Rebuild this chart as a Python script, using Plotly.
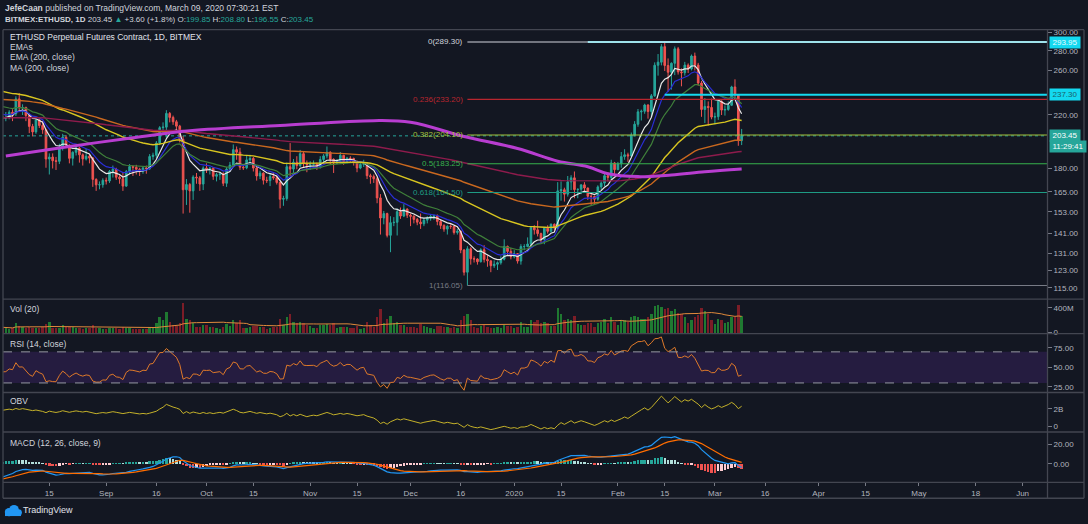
import numpy as np
import pandas as pd
import plotly.graph_objects as go
from plotly.subplots import make_subplots

W, H = 1088, 524
BG = "#131722"
TXT = "#b2b5be"
FONT = "Liberation Sans"

# ---------------- data (daily, BITMEX:ETHUSD) ----------------
dates = pd.date_range("2019-08-01", "2020-03-09", freq="D")

opens = [
    # Aug 2019
    218.5, 217.4, 217.9, 222.3, 221.0, 233.7, 226.0, 226.3, 219.6, 210.8, 206.5, 216.0, 211.5, 208.2, 186.5, 187.9,
    185.3, 184.9, 194.6, 202.4, 196.5, 187.0, 191.3, 194.3, 189.5, 186.6, 188.5, 187.2, 172.8, 169.3, 169.4,
    # Sep
    172.2, 171.8, 178.1, 179.5, 174.2, 173.2, 168.5, 177.9, 181.3, 180.8, 179.5, 178.3, 180.4, 179.9, 188.3,
    189.2, 198.0, 209.8, 210.2, 221.3, 218.0, 214.5, 211.0, 200.8, 166.2, 169.5, 165.5, 174.3, 173.8, 169.8,
    # Oct
    180.3, 179.6, 180.2, 174.8, 175.9, 176.4, 170.3, 179.6, 182.3, 193.2, 191.4, 180.9, 180.5, 185.9, 186.9, 180.3,
    175.0, 176.9, 172.3, 172.0, 174.6, 173.8, 170.8, 160.4, 160.8, 181.2, 179.6, 184.3, 182.0, 190.3, 183.2,
    # Nov
    182.6, 182.9, 183.0, 181.2, 186.2, 188.7, 191.3, 186.3, 183.9, 185.2, 189.1, 185.0, 187.1, 186.9, 184.2,
    180.3, 182.8, 183.5, 175.2, 174.6, 173.2, 161.2, 149.5, 152.0, 140.1, 146.9, 147.1, 153.1, 150.6, 154.6,
    # Dec
    151.1, 150.5, 148.7, 147.2, 146.3, 148.3, 149.5, 150.4, 150.7, 147.6, 145.4, 143.4, 144.9, 144.8, 141.6, 142.3,
    132.6, 122.0, 133.2, 128.3, 128.2, 126.9, 132.7, 128.0, 127.3, 125.0, 125.7, 126.4, 128.1, 134.4, 131.9,
    # Jan 2020
    129.3, 130.8, 127.2, 134.3, 134.3, 135.6, 144.2, 143.0, 141.0, 138.0, 143.9, 142.2, 146.0, 144.0, 165.5, 166.2,
    163.5, 171.2, 173.8, 166.3, 166.5, 169.3, 167.3, 162.2, 162.1, 160.4, 168.0, 170.4, 175.2, 174.1, 183.8,
    # Feb
    179.2, 183.2, 188.2, 189.5, 188.7, 204.1, 212.5, 222.6, 223.1, 228.4, 222.9, 236.4, 265.1, 268.2, 284.3,
    264.9, 258.3, 267.1, 282.0, 258.6, 257.8, 265.3, 261.4, 274.5, 265.3, 248.0, 224.6, 227.2, 226.3,
    # Mar
    218.3, 218.6, 231.6, 224.1, 224.6, 228.2, 244.4, 237.3, 199.85,
]
highs = [
    219.5, 222.5, 224.0, 224.8, 236.0, 238.8, 229.0, 227.0, 221.5, 212.8, 217.5, 216.8, 215.0, 209.0, 190.5, 190.5,
    188.0, 197.5, 205.0, 204.0, 197.0, 192.0, 195.5, 195.0, 190.5, 194.0, 190.0, 188.0, 173.5, 171.5, 173.5,
    174.0, 179.0, 182.0, 180.5, 175.5, 177.5, 179.0, 183.0, 182.0, 182.5, 180.5, 181.5, 182.0, 190.0, 191.0,
    199.5, 211.0, 214.0, 224.0, 222.5, 219.5, 216.0, 212.0, 203.5, 173.0, 170.5, 175.5, 177.0, 175.0, 181.5,
    183.5, 181.0, 181.0, 177.0, 177.5, 177.5, 181.0, 184.5, 197.0, 195.5, 194.5, 182.5, 189.0, 189.5, 188.0, 181.0,
    178.5, 177.5, 174.5, 176.5, 177.5, 175.5, 171.5, 162.5, 184.0, 198.0, 186.5, 188.5, 193.0, 191.5, 185.5,
    185.0, 185.5, 184.0, 188.5, 190.0, 195.5, 192.0, 187.0, 186.5, 191.5, 189.5, 188.0, 188.5, 187.5, 185.5,
    184.5, 186.0, 184.0, 176.5, 176.0, 174.5, 163.5, 153.5, 152.5, 150.5, 150.0, 155.0, 155.5, 157.5, 155.0,
    152.0, 151.0, 149.5, 152.0, 149.5, 150.5, 151.5, 151.5, 151.5, 148.5, 146.0, 145.5, 146.0, 145.0, 143.5, 142.5,
    133.0, 134.5, 134.0, 129.5, 128.5, 133.5, 135.0, 130.0, 127.5, 127.5, 127.0, 129.5, 138.0, 134.8, 133.5,
    132.5, 131.0, 135.5, 135.5, 139.0, 145.0, 145.5, 148.0, 141.5, 144.0, 145.5, 146.5, 146.5, 171.0, 171.5, 167.5,
    175.0, 175.5, 178.0, 167.0, 169.5, 171.0, 167.5, 163.5, 162.5, 169.0, 171.5, 177.0, 177.5, 186.0, 184.5,
    184.5, 191.5, 193.5, 191.0, 206.0, 215.0, 225.0, 224.5, 229.5, 229.0, 238.0, 268.0, 276.5, 287.0, 289.3,
    272.0, 268.0, 284.5, 284.0, 262.0, 268.5, 267.0, 276.0, 278.0, 267.5, 250.0, 234.5, 231.5, 234.0,
    222.0, 233.0, 232.5, 228.0, 231.5, 245.5, 251.5, 237.8, 208.8,
]
lows = [
    210.2, 214.9, 216.5, 215.0, 219.2, 222.5, 220.0, 215.0, 205.5, 203.0, 205.0, 209.5, 205.0, 180.5, 176.0, 180.0,
    179.0, 183.0, 192.5, 195.0, 183.5, 182.0, 189.0, 184.0, 182.0, 185.5, 183.5, 168.0, 165.5, 166.5, 167.5,
    169.5, 170.5, 174.0, 172.5, 170.0, 165.5, 168.0, 176.0, 175.0, 176.0, 175.0, 176.5, 176.5, 179.0, 186.0,
    187.0, 196.5, 205.0, 202.0, 214.0, 212.0, 206.0, 198.5, 152.0, 157.0, 152.5, 160.0, 170.0, 165.5, 166.0,
    177.0, 176.0, 172.5, 171.5, 172.5, 168.5, 168.0, 178.0, 181.5, 186.0, 179.0, 179.0, 179.5, 183.5, 178.0, 172.0,
    173.0, 169.5, 170.5, 168.5, 172.5, 169.5, 155.0, 156.5, 159.5, 175.0, 177.0, 179.5, 181.0, 181.0, 177.5,
    179.0, 182.0, 179.0, 180.0, 184.0, 187.0, 183.0, 177.0, 183.0, 183.5, 182.5, 183.5, 184.5, 182.0, 177.5,
    179.5, 181.0, 173.0, 170.0, 170.5, 158.0, 140.5, 146.0, 139.0, 131.5, 145.0, 140.0, 149.0, 150.0, 149.5,
    145.0, 146.5, 145.5, 143.5, 145.0, 146.5, 148.0, 148.5, 145.5, 143.5, 142.0, 140.5, 143.5, 140.5, 140.5, 131.0,
    120.5, 116.05, 125.5, 126.5, 125.5, 126.5, 126.5, 124.5, 122.0, 124.0, 123.0, 125.5, 127.5, 130.0, 128.0,
    128.5, 126.0, 125.5, 132.5, 134.0, 135.0, 140.5, 139.5, 136.0, 135.5, 141.0, 141.5, 142.5, 143.5, 159.5, 159.0,
    162.0, 166.0, 161.0, 161.0, 163.5, 165.5, 160.0, 157.0, 157.5, 159.5, 166.0, 168.5, 171.5, 172.0, 176.0,
    179.0, 180.5, 186.0, 184.5, 188.0, 203.0, 210.5, 215.5, 221.0, 217.0, 218.5, 235.5, 255.0, 265.0, 259.5,
    240.0, 242.0, 255.5, 256.0, 245.0, 255.0, 257.5, 260.0, 260.0, 245.5, 218.5, 213.5, 211.5, 216.5,
    212.5, 216.0, 220.0, 219.5, 223.5, 227.5, 235.0, 196.0, 196.55,
]
closes = [
    217.4, 217.9, 222.3, 221.0, 233.7, 226.0, 226.3, 219.6, 210.8, 206.5, 216.0, 211.5, 208.2, 186.5, 187.9, 185.3,
    184.9, 194.6, 202.4, 196.5, 187.0, 191.3, 194.3, 189.5, 186.6, 188.5, 187.2, 172.8, 169.3, 169.4, 172.2,
    171.8, 178.1, 179.5, 174.2, 173.2, 168.5, 177.9, 181.3, 180.8, 179.5, 178.3, 180.4, 179.9, 188.3, 189.2,
    198.0, 209.8, 210.2, 221.3, 218.0, 214.5, 211.0, 200.8, 166.2, 169.5, 165.5, 174.3, 173.8, 169.8, 180.3,
    179.6, 180.2, 174.8, 175.9, 176.4, 170.3, 179.6, 182.3, 193.2, 191.4, 180.9, 180.5, 185.9, 186.9, 180.3, 175.0,
    176.9, 172.3, 172.0, 174.6, 173.8, 170.8, 160.4, 160.8, 181.2, 179.6, 184.3, 182.0, 190.3, 183.2, 182.6,
    182.9, 183.0, 181.2, 186.2, 188.7, 191.3, 186.3, 183.9, 185.2, 189.1, 185.0, 187.1, 186.9, 184.2, 180.3,
    182.8, 183.5, 175.2, 174.6, 173.2, 161.2, 149.5, 152.0, 140.1, 146.9, 147.1, 153.1, 150.6, 154.6, 151.1,
    150.5, 148.7, 147.2, 146.3, 148.3, 149.5, 150.4, 150.7, 147.6, 145.4, 143.4, 144.9, 144.8, 141.6, 142.3, 132.6,
    122.0, 133.2, 128.3, 128.2, 126.9, 132.7, 128.0, 127.3, 125.0, 125.7, 126.4, 128.1, 134.4, 131.9, 129.3,
    130.8, 127.2, 134.3, 134.3, 135.6, 144.2, 143.0, 141.0, 138.0, 143.9, 142.2, 146.0, 144.0, 165.5, 166.2, 163.5,
    171.2, 173.8, 166.3, 166.5, 169.3, 167.3, 162.2, 162.1, 160.4, 168.0, 170.4, 175.2, 174.1, 183.8, 179.2,
    183.2, 188.2, 189.5, 188.7, 204.1, 212.5, 222.6, 223.1, 228.4, 222.9, 236.4, 265.1, 268.2, 284.3, 264.9,
    258.3, 267.1, 282.0, 258.6, 257.8, 265.3, 261.4, 274.5, 265.3, 248.0, 224.6, 227.2, 226.3, 218.3,
    218.6, 231.6, 224.1, 224.6, 228.2, 244.4, 237.3, 199.85, 203.45,
]
volumes_m = [
    # Aug
    80, 70, 60, 70, 150, 110, 90, 70, 90, 70, 70, 70, 90, 140, 170, 80, 70, 80, 120, 90, 90, 90, 70, 70, 60, 80,
    70, 120, 80, 70, 60,
    # Sep
    60, 80, 80, 70, 60, 90, 70, 70, 60, 60, 60, 60, 60, 90, 70, 150, 260, 200, 330, 180, 130, 110, 150, 480, 220,
    200, 150, 90, 90, 130,
    # Oct
    120, 90, 100, 80, 60, 90, 140, 110, 200, 150, 200, 70, 80, 90, 110, 110, 90, 90, 60, 80, 90, 90, 230, 130, 260,
    300, 170, 160, 180, 150, 130,
    # Nov
    110, 70, 70, 120, 120, 140, 120, 150, 70, 90, 100, 90, 70, 80, 110, 60, 70, 170, 120, 100, 250, 380, 150, 230,
    280, 150, 180, 120, 130, 100,
    # Dec
    100, 90, 80, 140, 110, 90, 70, 60, 110, 110, 100, 100, 80, 90, 70, 200, 280, 310, 200, 100, 70, 110, 130, 100,
    80, 80, 100, 80, 120, 110, 110,
    # Jan
    70, 100, 170, 90, 90, 200, 170, 200, 150, 180, 150, 110, 110, 400, 300, 200, 220, 200, 270, 140, 130, 120, 160,
    160, 100, 150, 170, 220, 160, 250, 180,
    # Feb
    120, 200, 200, 170, 260, 270, 250, 220, 220, 260, 300, 440, 450, 420, 380, 400, 350, 380, 320, 300, 260, 160,
    200, 260, 290, 400, 350, 300, 200,
    # Mar
    140, 230, 200, 150, 180, 250, 260, 460, 280,
]
# MA(200) at sample dates
ma200_dates = ["2019-08-02", "2019-08-20", "2019-09-09", "2019-09-26", "2019-10-23", "2019-11-20", "2019-12-01",
               "2019-12-17", "2020-01-02", "2020-01-14", "2020-01-23", "2020-01-29", "2020-02-07", "2020-02-17",
               "2020-02-27", "2020-03-09"]
ma200_vals = [188.6, 195.1, 202.0, 207.3, 211.5, 215.4, 214.1, 203.0, 194.0, 185.0, 181.2, 176.5, 174.6, 175.7,
              177.8, 179.6]

# indicator seeds (values at the left edge of the chart)
ema_lengths = [8, 13, 21, 55, 100, 200]
ema_seeds = [218.0, 221.0, 228.0, 241.3, 233.5, 217.7]
ema_colors = ["#e8e8e8", "#2a2ed6", "#3f7f3a", "#d8c520", "#c9681f", "#8e1b4c"]
macd_seeds = (215.5, 230.0, -15.7)  # EMA12, EMA26, signal
rsi_seeds = (2.6, 3.2)  # avg gain, avg loss
obv_seed = 1.93e9

fib_ratios = ["0", "0.236", "0.382", "0.5", "0.618", "1"]
fib_prices = [289.30, 233.20, 204.10, 183.25, 164.50, 116.05]
fib_colors = ["#d1d4dc", "#b8262f", "#a3c13a", "#37b24d", "#1e9b84", "#787b86"]

assert len(dates) == len(opens) == len(highs) == len(lows) == len(closes) == len(volumes_m)

closes_a = np.array(closes)
vols = np.array(volumes_m) * 1e6


def ema(vals, length, seed):
    a = 2.0 / (length + 1)
    out, prev = [], seed
    for v in vals:
        prev = prev + a * (v - prev)
        out.append(prev)
    return np.array(out)


# MACD
e12 = ema(closes_a, 12, macd_seeds[0])
e26 = ema(closes_a, 26, macd_seeds[1])
macd = e12 - e26
sig = ema(macd, 9, macd_seeds[2])
hist = macd - sig
hist_prev = np.concatenate([[macd_seeds[0] - macd_seeds[1] - macd_seeds[2]], hist[:-1]])
hcol = []
for h, p in zip(hist, hist_prev):
    if h >= 0:
        hcol.append("#26a69a" if h > p else "#b2dfdb")
    else:
        hcol.append("#ffcdd2" if h > p else "#ef5350")

# RSI (Wilder)
ch = closes_a - np.concatenate([[opens[0]], closes_a[:-1]])
ag, al = rsi_seeds
rsi = []
for c in ch:
    ag = (ag * 13 + max(c, 0)) / 14
    al = (al * 13 + max(-c, 0)) / 14
    rsi.append(100 - 100 / (1 + ag / al))

# OBV
obv = []
cur = obv_seed
for c, v in zip(ch, vols):
    cur += v if c > 0 else (-v if c < 0 else 0)
    obv.append(cur)

vol_ma = pd.Series(vols).rolling(20, min_periods=1).mean()
vol_cols = ["rgba(34,139,52,0.85)" if c >= o else "rgba(136,30,40,0.9)" for o, c in zip(opens, closes)]

# ---------------- figure ----------------
def px(x):
    return x / W


def py(y):
    return 1 - y / H


X0 = pd.Timestamp("2019-08-01 03:36")
X1 = pd.Timestamp("2020-06-08 07:00")

fig = make_subplots(rows=5, cols=1, shared_xaxes=True, vertical_spacing=0)

fig.add_trace(go.Candlestick(
    x=dates, open=opens, high=highs, low=lows, close=closes,
    increasing=dict(line=dict(color="#26a69a", width=1), fillcolor="#26a69a"),
    decreasing=dict(line=dict(color="#ef5350", width=1), fillcolor="#ef5350"),
    whiskerwidth=0, showlegend=False, hoverinfo="skip"), row=1, col=1)

# last-price line
fig.add_trace(go.Scatter(x=[X0, X1], y=[closes[-1], closes[-1]], mode="lines",
                         line=dict(color="#26a69a", width=1, dash="dot"), showlegend=False, hoverinfo="skip"),
              row=1, col=1)

# EMAs
for L, s, col in zip(ema_lengths, ema_seeds, ema_colors):
    fig.add_trace(go.Scatter(x=dates, y=ema(closes_a, L, s), mode="lines",
                             line=dict(color=col, width=1.2 if L < 55 else 1.4),
                             showlegend=False, hoverinfo="skip"), row=1, col=1)
fig.add_trace(go.Scatter(x=pd.to_datetime(ma200_dates), y=ma200_vals, mode="lines",
                         line=dict(color="#b83dd0", width=3, shape="spline"), showlegend=False, hoverinfo="skip"),
              row=1, col=1)

# Fibonacci levels
fib_start = pd.Timestamp("2019-12-18")
for r, p, c in zip(fib_ratios, fib_prices, fib_colors):
    fig.add_trace(go.Scatter(x=[fib_start, X1], y=[p, p], mode="lines", line=dict(color=c, width=1.2),
                             showlegend=False, hoverinfo="skip"), row=1, col=1)
    fig.add_annotation(x=pd.Timestamp("2019-12-17 10:00"), y=np.log10(p), xref="x", yref="y",
                       text=f"{r}({p:.2f})", showarrow=False, xanchor="right", yanchor="middle",
                       font=dict(family=FONT, size=8, color=c))

# user horizontal rays
fig.add_trace(go.Scatter(x=[pd.Timestamp("2020-01-23"), X1], y=[289.4, 289.4], mode="lines",
                         line=dict(color="#9fe3ec", width=2), showlegend=False, hoverinfo="skip"), row=1, col=1)
fig.add_trace(go.Scatter(x=[pd.Timestamp("2020-02-15"), X1], y=[237.3, 237.3], mode="lines",
                         line=dict(color="#14d9f0", width=2), showlegend=False, hoverinfo="skip"), row=1, col=1)

# volume
fig.add_trace(go.Bar(x=dates, y=vols, marker=dict(color=vol_cols, line=dict(width=0)),
                     width=0.72 * 86400000, showlegend=False, hoverinfo="skip"), row=2, col=1)
fig.add_trace(go.Scatter(x=dates, y=vol_ma, mode="lines", line=dict(color="#e08a3c", width=1),
                         showlegend=False, hoverinfo="skip"), row=2, col=1)
# RSI
fig.add_trace(go.Scatter(x=dates, y=rsi, mode="lines", line=dict(color="#df7a2a", width=1),
                         showlegend=False, hoverinfo="skip"), row=3, col=1)
# OBV
fig.add_trace(go.Scatter(x=dates, y=obv, mode="lines", line=dict(color="#c4b12a", width=1),
                         showlegend=False, hoverinfo="skip"), row=4, col=1)
# MACD
fig.add_trace(go.Bar(x=dates, y=hist, marker=dict(color=hcol, line=dict(width=0)), width=0.72 * 86400000,
                     showlegend=False, hoverinfo="skip"), row=5, col=1)
fig.add_trace(go.Scatter(x=dates, y=macd, mode="lines", line=dict(color="#2196f3", width=1.2),
                         showlegend=False, hoverinfo="skip"), row=5, col=1)
fig.add_trace(go.Scatter(x=dates, y=sig, mode="lines", line=dict(color="#ff6d00", width=1.2),
                         showlegend=False, hoverinfo="skip"), row=5, col=1)

# axes
xdom = [px(3), px(1047)]
for i in range(1, 6):
    fig.update_xaxes(row=i, col=1, domain=xdom, range=[X0, X1], showgrid=False, zeroline=False,
                     showline=False, rangeslider_visible=False, showticklabels=(i == 5), ticks="")
tick_dates = ["2019-08-15", "2019-09-01", "2019-09-16", "2019-10-01", "2019-10-15", "2019-11-01", "2019-11-15",
              "2019-12-01", "2019-12-16", "2020-01-01", "2020-01-15", "2020-02-01", "2020-02-15", "2020-03-01",
              "2020-03-16", "2020-04-01", "2020-04-15", "2020-05-01", "2020-05-18", "2020-06-01"]
tick_text = ["15", "Sep", "16", "Oct", "15", "Nov", "15", "Dec", "16", "2020", "15", "Feb", "15", "Mar", "16",
             "Apr", "15", "May", "18", "Jun"]
fig.update_xaxes(row=5, col=1, tickvals=pd.to_datetime(tick_dates), ticktext=tick_text, ticks="outside",
                 ticklen=3, tickcolor="#787b86", tickfont=dict(family=FONT, size=8, color=TXT))

yc = dict(side="right", showgrid=False, zeroline=False, showline=False, ticks="outside", ticklen=4,
          tickcolor="#787b86", tickfont=dict(family=FONT, size=8, color=TXT), fixedrange=True)
main_ticks = [115, 123, 131, 141, 153, 165, 180, 220, 260, 280, 300]
fig.update_layout(
    yaxis=dict(domain=[py(300), py(28)], type="log", range=[2.0434, 2.4814], tickvals=main_ticks,
               ticktext=[f"{v:.2f}" for v in main_ticks], **yc),
    yaxis2=dict(domain=[py(335), py(301)], range=[-16.2e6, 534e6], tickvals=[0, 400e6], ticktext=["0", "400M"],
                **yc),
    yaxis3=dict(domain=[py(395), py(336)], range=[17.75, 92.8], tickvals=[25, 50, 75],
                ticktext=["25.00", "50.00", "75.00"], **yc),
    yaxis4=dict(domain=[py(435), py(395)], range=[-0.648e9, 3.898e9], tickvals=[0, 2e9], ticktext=["0", "2B"],
                **yc),
    yaxis5=dict(domain=[py(486), py(435)], range=[-18.7, 32.3], tickvals=[0, 20], ticktext=["0.00", "20.00"],
                **yc),
)

shapes = []
# RSI band
shapes.append(dict(type="rect", xref="x3", yref="y3", x0=X0, x1=X1, y0=30, y1=70, fillcolor="#251c40",
                   line=dict(width=0), layer="below"))
for lvl in (70, 30):
    shapes.append(dict(type="line", xref="x3", yref="y3", x0=X0, x1=X1, y0=lvl, y1=lvl,
                       line=dict(color="#9598a1", width=1, dash="dash")))
# pane frame
FR = "#434651"
for yy in (28, 300.5, 335.5, 395, 435, 486, 502):
    shapes.append(dict(type="line", xref="paper", yref="paper", x0=px(3), x1=px(1084), y0=py(yy), y1=py(yy),
                       line=dict(color=FR, width=1.3)))
for xx in (3, 1047.5, 1084):
    shapes.append(dict(type="line", xref="paper", yref="paper", x0=px(xx), x1=px(xx), y0=py(28), y1=py(502),
                       line=dict(color=FR, width=1.3)))
# TradingView logo icon
for cx, cy, r in ((9, 516, 4.2), (14, 513.5, 4.8), (18.5, 516.5, 3.4)):
    shapes.append(dict(type="circle", xref="paper", yref="paper", x0=px(cx - r), x1=px(cx + r), y0=py(cy + r),
                       y1=py(cy - r), fillcolor="#2196f3", line=dict(width=0)))
shapes.append(dict(type="rect", xref="paper", yref="paper", x0=px(5), x1=px(21), y0=py(520), y1=py(515),
                   fillcolor="#2196f3", line=dict(width=0)))
fig.update_layout(shapes=shapes)


def ann(x, y, text, size=8, color="#d1d4dc", **kw):
    fig.add_annotation(x=px(x), y=py(y), xref="paper", yref="paper", text=text, showarrow=False,
                       xanchor=kw.pop("xanchor", "left"), yanchor="middle",
                       font=dict(family=FONT, size=size, color=color), **kw)


G = "#26a69a"
ann(3, 6.5, "<b>JefeCaan</b> published on TradingView.com, March 09, 2020 07:30:21 EST", size=8.5)
ann(3, 17.5, f"<b>BITMEX:ETHUSD, 1D</b> 203.45 <span style='color:{G}'>▲</span> +3.60 (+1.8%) "
             f"O:<span style='color:{G}'>199.85</span> H:<span style='color:{G}'>208.80</span> "
             f"L:<span style='color:{G}'>196.55</span> C:<span style='color:{G}'>203.45</span>",
    size=8)
ann(8, 35, "ETHUSD Perpetual Futures Contract, 1D, BITMEX", size=8.5, color="#e0e3eb")
ann(8, 45.5, "EMAs", size=8.5)
ann(8, 56, "EMA (200, close)", size=8.5)
ann(8, 66.5, "MA (200, close)", size=8.5)
ann(8, 311, "Vol (20)", size=8.5)
ann(8, 346, "RSI (14, close)", size=8.5)
ann(8, 404, "OBV", size=8.5)
ann(8, 446, "MACD (12, 26, close, 9)", size=8.5)
ann(21, 514, "TradingView", size=9, color="#e0e3eb")

# price-scale label boxes
ann(1049, 40.8, "293.95", size=8, color="#e8fbff", bgcolor="#14d9f0", borderpad=1, width=28)
ann(1049, 93.5, "237.30", size=8, color="#1b5f6a", bgcolor="#14d9f0", borderpad=1, width=28)
ann(1049, 135, "203.45", size=8, color="#ffffff", bgcolor="#26a69a", borderpad=1, width=28)
ann(1049, 146, "11:29:41", size=8, color="#ffffff", bgcolor="#26a69a", borderpad=1, width=34)

fig.update_layout(width=W, height=H, margin=dict(l=0, r=0, t=0, b=0), paper_bgcolor=BG, plot_bgcolor=BG,
                  showlegend=False, bargap=0, font=dict(family=FONT, color=TXT))
fig.write_html("out.html")
